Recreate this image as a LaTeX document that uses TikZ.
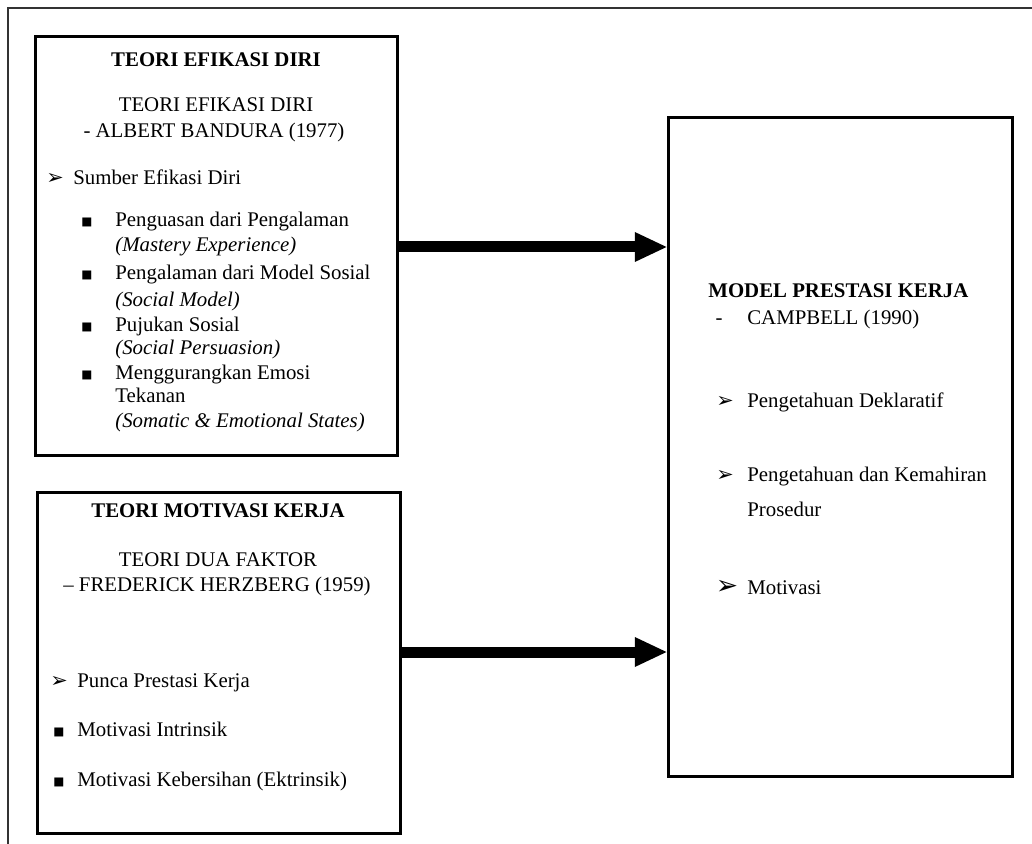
\documentclass[tikz,border=0pt]{standalone}
\usepackage{fontspec}
\setmainfont{Liberation Serif}
\newfontfamily\dingfont{DejaVu Sans}
\usetikzlibrary{arrows.meta}

\begin{document}
\begin{tikzpicture}
% TikZ diagram laid out on the pixel grid of the page
\def\px{0.6pt}
\providecommand{\pageFrameColor}{black!80}
\providecommand{\pageFrameWidth}{1.2pt}
\providecommand{\boxLineWidth}{1.8pt}
\providecommand{\arrowLineWidth}{6.6pt}
\begin{scope}[x=\px, y=-\px, line join=miter,
  box/.style={draw=black, line width=\boxLineWidth, inner sep=0pt},
  txt/.style={anchor=west, inner sep=0pt, font=\fontsize{12.5pt}{15pt}\selectfont,
    text height=0.7em, text depth=0.2em},
  ctxt/.style={txt, anchor=center},
  btxt/.style={ctxt, font=\fontsize{12.5pt}{15pt}\selectfont\bfseries},
  arrowmark/.style={txt, anchor=center, font=\dingfont\fontsize{12.5pt}{14pt}\selectfont},
  squaremark/.style={txt, anchor=center, font=\dingfont\fontsize{7pt}{8pt}\selectfont},
  bigarrow/.style={line width=\arrowLineWidth,
    -{Triangle[length=19pt, width=18pt, line width=0pt]}}]
  \useasboundingbox (0,0) rectangle (1032,844);
  % Page frame (top and left edges only)
  \draw[draw=\pageFrameColor, line width=\pageFrameWidth] (1032,8) -- (8,8) -- (8,844);
  % Boxes
  \node[box, minimum width=362*\px, minimum height=418*\px] (efikasi) at (216,246) {};
  \node[box, minimum width=363*\px, minimum height=341*\px] (motivasi) at (218.5,662.5) {};
  \node[box, minimum width=344*\px, minimum height=658*\px] (model) at (840,447) {};
  % Teori efikasi diri
  \node[btxt] (efTitle) at (216,62) {TEORI EFIKASI DIRI};
  \node[ctxt] (efName) at (216,107) {TEORI EFIKASI DIRI};
  \node[ctxt] (efAuthor) at (214,133) {- ALBERT BANDURA (1977)};
  \node[arrowmark] (efMark) at (55,180) {➢};
  \node[txt] (efSource) at (73,180) {Sumber Efikasi Diri};
  \node[squaremark] (efDotA) at (87,221) {■};
  \node[txt] (efItemA) at (115,222) {Penguasan dari Pengalaman};
  \node[txt] (efItemAen) at (115,247) {\itshape (Mastery Experience)};
  \node[squaremark] (efDotB) at (87,274) {■};
  \node[txt] (efItemB) at (115,275) {Pengalaman dari Model Sosial};
  \node[txt] (efItemBen) at (115,302) {\itshape (Social Model)};
  \node[squaremark] (efDotC) at (87,326) {■};
  \node[txt] (efItemC) at (115,327) {Pujukan Sosial};
  \node[txt] (efItemCen) at (115,350) {\itshape (Social Persuasion)};
  \node[squaremark] (efDotD) at (87,374) {■};
  \node[txt] (efItemD) at (115,375) {Menggurangkan Emosi};
  \node[txt] (efItemDb) at (115,398) {Tekanan};
  \node[txt] (efItemDen) at (115,423) {\itshape (Somatic \& Emotional States)};
  % Teori motivasi kerja
  \node[btxt] (moTitle) at (218,513) {TEORI MOTIVASI KERJA};
  \node[ctxt] (moName) at (218,562) {TEORI DUA FAKTOR};
  \node[ctxt] (moAuthor) at (217,587) {– FREDERICK HERZBERG (1959)};
  \node[arrowmark] (moMark) at (59,683) {➢};
  \node[txt] (moSource) at (77,683) {Punca Prestasi Kerja};
  \node[squaremark] (moDotA) at (59,731) {■};
  \node[txt] (moItemA) at (77,732) {Motivasi Intrinsik};
  \node[squaremark] (moDotB) at (59,781) {■};
  \node[txt] (moItemB) at (77,782) {Motivasi Kebersihan (Ektrinsik)};
  % Model prestasi kerja
  \node[btxt, anchor=west] (mpTitle) at (708,293) {MODEL PRESTASI KERJA};
  \node[ctxt] (mpDash) at (719,320) {-};
  \node[txt] (mpAuthor) at (747,320) {CAMPBELL (1990)};
  \node[arrowmark] (mpMarkA) at (725,403) {➢};
  \node[txt] (mpItemA) at (747,403) {Pengetahuan Deklaratif};
  \node[arrowmark] (mpMarkB) at (725,477) {➢};
  \node[txt] (mpItemB) at (747,477) {Pengetahuan dan Kemahiran};
  \node[txt] (mpItemBb) at (747,512) {Prosedur};
  \node[arrowmark, font=\dingfont\fontsize{16pt}{18pt}\selectfont] (mpMarkC) at (727,590) {➢};
  \node[txt] (mpItemC) at (747,590) {Motivasi};
  % Arrows
  \coordinate (fromEfikasi) at (efikasi.east |- 0,247);
  \coordinate (fromMotivasi) at (motivasi.east |- 0,652);
  \draw[bigarrow] (fromEfikasi) -- (fromEfikasi -| model.west);
  \draw[bigarrow] (fromMotivasi) -- (fromMotivasi -| model.west);
\end{scope}
\end{tikzpicture}
\end{document}
